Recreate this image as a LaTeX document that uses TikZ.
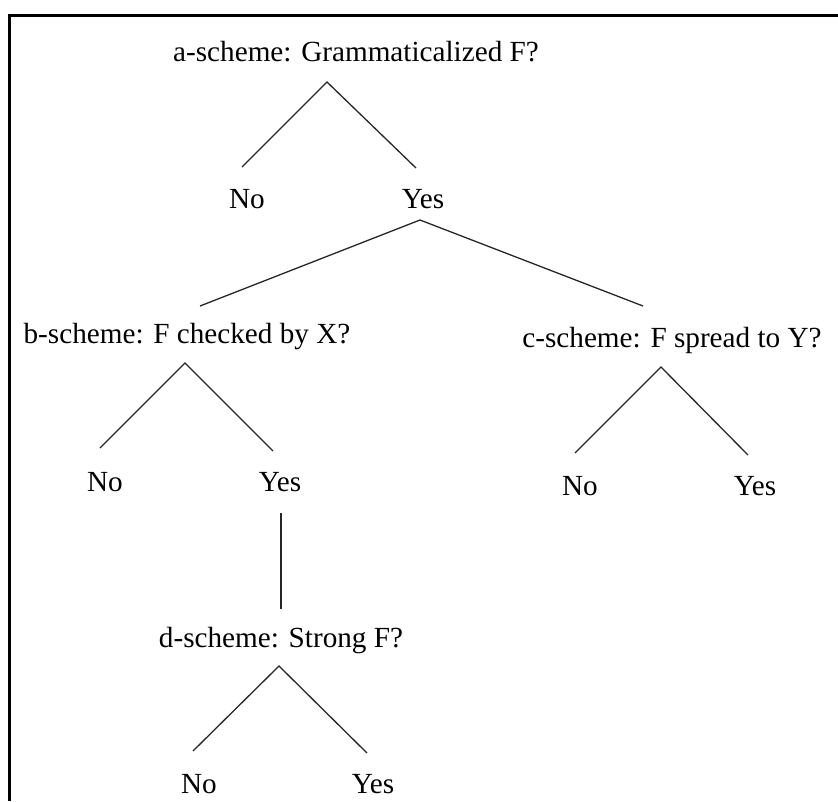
\documentclass[tikz,border=0pt]{standalone}
\usepackage{fontspec}
\setmainfont{Liberation Serif}
\begin{document}
\begin{tikzpicture}[x=1pt,y=-1pt,
  lbl/.style={inner sep=0pt,anchor=base,font=\fontsize{29.2}{32}\selectfont},
  branch/.style={line width=1.3pt,black!85},
  frame/.style={line width=3pt,black}]
\useasboundingbox (0,0) rectangle (838,801);
% frame (top and left edges)
\coordinate (fTR) at (838,15);
\coordinate (fTL) at (9,15);
\coordinate (fBL) at (9,801);
\draw[frame] (fTR) -- (fTL) -- (fBL);

% question nodes
\node[lbl] (a) at (356,61) {a-scheme: Grammaticalized F?};
\node[lbl] (b) at (187,343) {b-scheme: F checked by X?};
\node[lbl] (c) at (672,347) {c-scheme: F spread to Y?};
\node[lbl] (d) at (281,647) {d-scheme: Strong F?};

% answer nodes
\node[lbl] (aNo)  at (247,208) {No};
\node[lbl] (aYes) at (423,208) {Yes};
\node[lbl] (bNo)  at (105,491) {No};
\node[lbl] (bYes) at (280,491) {Yes};
\node[lbl] (cNo)  at (580,495) {No};
\node[lbl] (cYes) at (755,495) {Yes};
\node[lbl] (dNo)  at (199,793) {No};
\node[lbl] (dYes) at (373,793) {Yes};

% branch end points
\coordinate (aTip) at (327,82);
\coordinate (aL) at (242,167);
\coordinate (aR) at (416,168);
\coordinate (yTip) at (420,220);
\coordinate (yL) at (200,306);
\coordinate (yR) at (643,306);
\coordinate (bTip) at (185,363);
\coordinate (bL) at (100,448);
\coordinate (bR) at (273,451);
\coordinate (cTip) at (661,367);
\coordinate (cL) at (575,453);
\coordinate (cR) at (748,455);
\coordinate (vTop) at (281,513);
\coordinate (vBot) at (281,609);
\coordinate (dTip) at (279,666);
\coordinate (dL) at (193,751);
\coordinate (dR) at (367,753);

% branches
\draw[branch] (aL) -- (aTip) -- (aR);
\draw[branch] (yL) -- (yTip) -- (yR);
\draw[branch] (bL) -- (bTip) -- (bR);
\draw[branch] (cL) -- (cTip) -- (cR);
\draw[branch] (vTop) -- (vBot);
\draw[branch] (dL) -- (dTip) -- (dR);
\end{tikzpicture}
\end{document}
